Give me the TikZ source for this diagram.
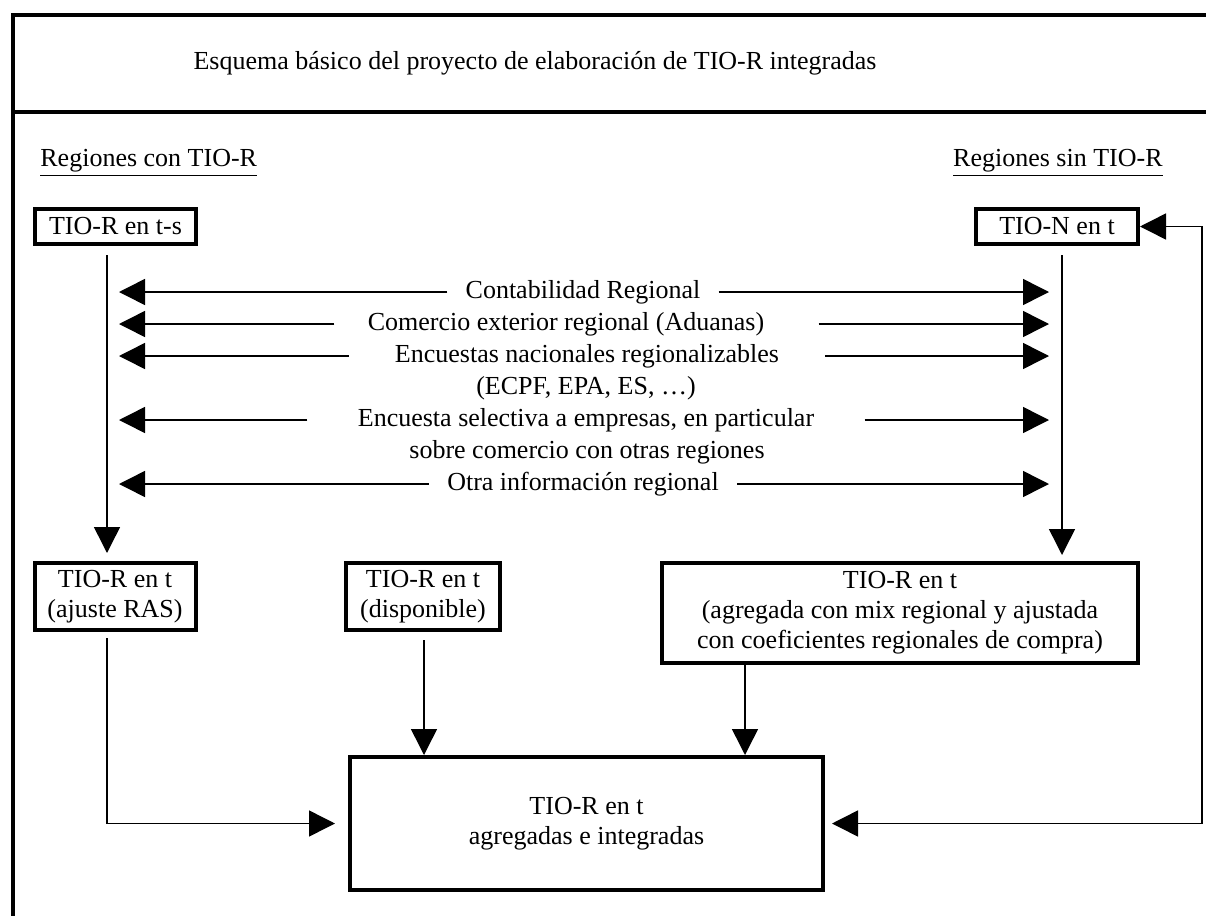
\documentclass[tikz,border=0pt]{standalone}
\usepackage{fontspec}
\setmainfont{Liberation Serif}
\usetikzlibrary{arrows.meta}
\begin{document}
\begin{tikzpicture}[
  x=0.5pt, y=-0.5pt,
  box/.style={draw, line width=2pt, align=center, inner sep=0pt},
  lbl/.style={inner xsep=9pt, inner ysep=0pt},
  frame/.style={line width=2pt},
  line/.style={line width=0.75pt},
  >={Triangle[length=13pt,width=13pt]},
  font=\fontsize{13}{15}\selectfont
]
\useasboundingbox (0,0) rectangle (1206,916);
\draw[frame] (1206,15) -| (13,916);
\draw[frame] (13,112) -- (1206,112);
\node (title) at (535,63) {Esquema básico del proyecto de elaboración de TIO-R integradas};
\node[anchor=west, inner sep=0pt] (rcon) at (40,163) {\underline{Regiones con TIO-R}};
\node[anchor=east, inner sep=0pt] (rsin) at (1163,163) {\underline{Regiones sin TIO-R}};
\node[box, minimum width=80.5pt, minimum height=17.5pt] (tors) at (115.5,226.5) {TIO-R en t-s};
\node[box, minimum width=81pt, minimum height=17.5pt] (tion) at (1057,226.5) {TIO-N en t};
\node[box, minimum width=80.5pt, minimum height=33.5pt] (ras) at (115,596.5) {TIO-R en t\\(ajuste RAS)};
\node[box, minimum width=77pt, minimum height=33.5pt] (disp) at (423,596.5) {TIO-R en t\\(disponible)};
\node[box, minimum width=238pt, minimum height=50pt] (agr) at (900,613) {TIO-R en t\\(agregada con mix regional y ajustada\\con coeficientes regionales de compra)};
\node[box, minimum width=236.5pt, minimum height=66.5pt] (fin) at (586.5,823.5) {TIO-R en t\\agregadas e integradas};
\coordinate (lv) at (107,0);
\coordinate (rv) at (1062,0);
\coordinate (dv) at (424,0);
\coordinate (av) at (745,0);
\coordinate (lt) at (119,0);
\coordinate (rt) at (1049,0);
\coordinate (lp) at (1202,0);
\node[lbl] (cr) at (583,292) {Contabilidad Regional};
\node[lbl, inner xsep=16.5pt] (ce) at (566,324) {Comercio exterior regional (Aduanas)};
\node[lbl, inner xsep=23pt] (en) at (587,356) {Encuestas nacionales regionalizables};
\node (enb) at (586,388) {(ECPF, EPA, ES, …)};
\node[lbl, inner xsep=25pt] (es) at (586,420) {Encuesta selectiva a empresas, en particular};
\node (esb) at (587,452) {sobre comercio con otras regiones};
\node[lbl] (ot) at (583,484) {Otra información regional};
\draw[line,->] (cr.west) -- (cr.west -| lt);
\draw[line,->] (cr.east) -- (cr.east -| rt);
\draw[line,->] (ce.west) -- (ce.west -| lt);
\draw[line,->, shorten <=10.5pt] (ce.east) -- (ce.east -| rt);
\draw[line,->] (en.west) -- (en.west -| lt);
\draw[line,->] (en.east) -- (en.east -| rt);
\draw[line,->] (es.west) -- (es.west -| lt);
\draw[line,->] (es.east) -- (es.east -| rt);
\draw[line,->] (ot.west) -- (ot.west -| lt);
\draw[line,->] (ot.east) -- (ot.east -| rt);
\draw[line,->, shorten <=4.5pt, shorten >=4pt] (tors.south -| lv) -- (ras.north -| lv);
\draw[line,->, shorten <=4.5pt, shorten >=3pt] (tion.south -| rv) -- (agr.north -| rv);
\draw[line,->, shorten <=4pt] (disp.south -| dv) -- (fin.north -| dv);
\draw[line,->] (agr.south -| av) -- (fin.north -| av);
\draw[line,->, shorten <=3pt, shorten >=6.5pt] (ras.south -| lv) |- (fin.west);
\draw[line,<->, shorten <=3.5pt] (fin.east) -- (fin.east -| lp) |- (tion.east);
\end{tikzpicture}
\end{document}
